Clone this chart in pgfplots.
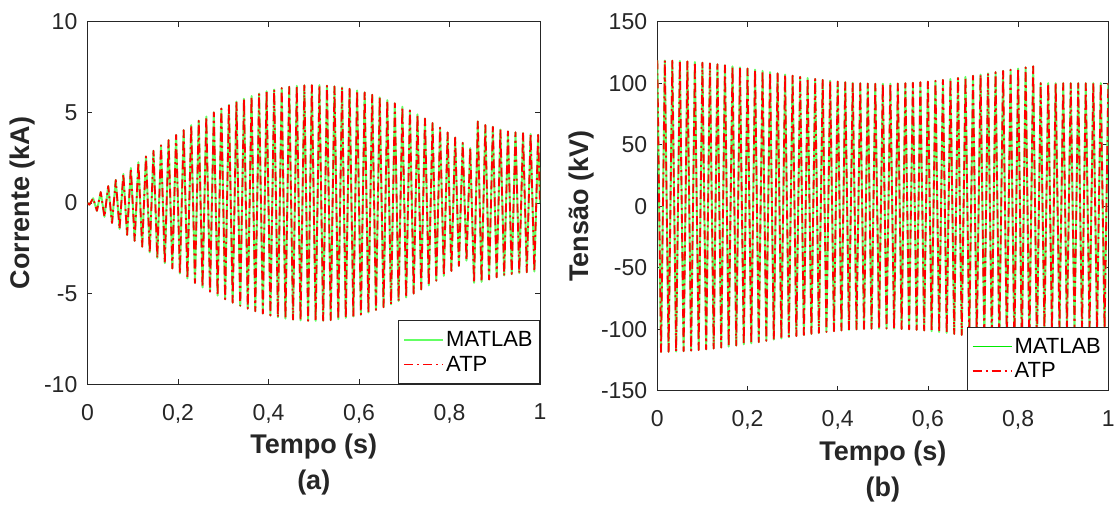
\documentclass[border=0pt]{standalone}
\usepackage{pgfplots}
\pgfplotsset{compat=1.18}
\usepackage{pgfplotstable}
\usepackage{fontspec}
\setmainfont{Liberation Sans}
\definecolor{axgray}{RGB}{38,38,38}
\definecolor{lgreen}{RGB}{100,255,100}
\definecolor{bgreen}{RGB}{0,235,0}
\definecolor{mred}{RGB}{255,0,0}

\pgfplotstableread{
t y
0 0
0.0042 -0.09
0.0125 0.26
0.0208 -0.43
0.0292 0.60
0.0375 -0.76
0.0458 0.93
0.0542 -1.10
0.0625 1.27
0.0708 -1.43
0.0792 1.60
0.0875 -1.76
0.0958 1.93
0.1042 -2.09
0.1125 2.25
0.1208 -2.41
0.1292 2.57
0.1375 -2.72
0.1458 2.88
0.1542 -3.03
0.1625 3.18
0.1708 -3.32
0.1792 3.47
0.1875 -3.61
0.1958 3.75
0.2042 -3.89
0.2125 4.02
0.2208 -4.16
0.2292 4.29
0.2375 -4.41
0.2458 4.54
0.2542 -4.66
0.2625 4.77
0.2708 -4.89
0.2792 5.00
0.2875 -5.11
0.2958 5.21
0.3042 -5.31
0.3125 5.41
0.3208 -5.50
0.3292 5.59
0.3375 -5.67
0.3458 5.75
0.3542 -5.83
0.3625 5.90
0.3708 -5.97
0.3792 6.04
0.3875 -6.10
0.3958 6.16
0.4042 -6.21
0.4125 6.26
0.4208 -6.30
0.4292 6.34
0.4375 -6.38
0.4458 6.41
0.4542 -6.43
0.4625 6.46
0.4708 -6.47
0.4792 6.49
0.4875 -6.50
0.4958 6.50
0.5042 -6.50
0.5125 6.50
0.5208 -6.49
0.5292 6.47
0.5375 -6.46
0.5458 6.43
0.5542 -6.41
0.5625 6.38
0.5708 -6.34
0.5792 6.30
0.5875 -6.26
0.5958 6.21
0.6042 -6.16
0.6125 6.10
0.6208 -6.04
0.6292 5.97
0.6375 -5.90
0.6458 5.83
0.6542 -5.75
0.6625 5.67
0.6708 -5.59
0.6792 5.50
0.6875 -5.41
0.6958 5.31
0.7042 -5.21
0.7125 5.11
0.7208 -5.00
0.7292 4.89
0.7375 -4.77
0.7458 4.66
0.7542 -4.54
0.7625 4.41
0.7708 -4.29
0.7792 4.16
0.7875 -4.02
0.7958 3.89
0.8042 -3.75
0.8125 3.61
0.8208 -3.47
0.8292 3.32
0.8375 -3.18
0.8458 3.03
0.8542 -4.40
0.8625 4.50
0.8708 -4.35
0.8792 4.30
0.8875 -4.22
0.8958 4.20
0.9042 -4.10
0.9125 4.05
0.9208 -4.00
0.9292 3.95
0.9375 -3.92
0.9458 3.90
0.9542 -3.87
0.9625 3.85
0.9708 -3.82
0.9792 3.80
0.9875 -3.78
0.9958 3.76
1.0000 0
}\dataA

\pgfplotstableread{
t y
0.0000 118.50
0.0083 -118.49
0.0167 118.45
0.0250 -118.38
0.0333 118.29
0.0417 -118.18
0.0500 118.04
0.0583 -117.87
0.0667 117.68
0.0750 -117.46
0.0833 117.23
0.0917 -116.97
0.1000 116.69
0.1083 -116.38
0.1167 116.06
0.1250 -115.72
0.1333 115.36
0.1417 -114.98
0.1500 114.58
0.1583 -114.17
0.1667 113.75
0.1750 -113.31
0.1833 112.86
0.1917 -112.40
0.2000 111.94
0.2083 -111.46
0.2167 110.98
0.2250 -110.49
0.2333 109.99
0.2417 -109.50
0.2500 109.00
0.2583 -108.50
0.2667 108.01
0.2750 -107.51
0.2833 107.02
0.2917 -106.54
0.3000 106.06
0.3083 -105.60
0.3167 105.14
0.3250 -104.69
0.3333 104.25
0.3417 -103.83
0.3500 103.42
0.3583 -103.02
0.3667 102.64
0.3750 -102.28
0.3833 101.94
0.3917 -101.62
0.4000 101.31
0.4083 -101.03
0.4167 100.77
0.4250 -100.54
0.4333 100.32
0.4417 -100.13
0.4500 99.96
0.4583 -99.82
0.4667 99.71
0.4750 -99.62
0.4833 99.55
0.4917 -99.51
0.5000 99.50
0.5083 -99.51
0.5167 99.55
0.5250 -99.62
0.5333 99.71
0.5417 -99.82
0.5500 99.96
0.5583 -100.13
0.5667 100.32
0.5750 -100.54
0.5833 100.77
0.5917 -101.03
0.6000 101.31
0.6083 -101.62
0.6167 101.94
0.6250 -102.28
0.6333 102.64
0.6417 -103.02
0.6500 103.42
0.6583 -103.83
0.6667 104.25
0.6750 -104.69
0.6833 105.14
0.6917 -105.60
0.7000 106.06
0.7083 -106.54
0.7167 107.02
0.7250 -107.51
0.7333 108.01
0.7417 -108.50
0.7500 109.00
0.7583 -109.50
0.7667 109.99
0.7750 -110.49
0.7833 110.98
0.7917 -111.46
0.8000 111.94
0.8083 -112.40
0.8167 112.86
0.8250 -113.31
0.8333 113.75
0.8417 -114.17
0.8500 100.10
0.8583 -100.05
0.8667 100.00
0.8750 -100.00
0.8833 100.00
0.8917 -100.00
0.9000 100.00
0.9083 -100.00
0.9167 100.00
0.9250 -100.00
0.9333 100.00
0.9417 -100.00
0.9500 100.00
0.9583 -100.00
0.9667 100.00
0.9750 -100.00
0.9833 100.00
0.9917 -100.00
1.0000 100.00
}\dataB

\pgfplotsset{
  common/.style={
    scale only axis,
    anchor=south west,
    xmin=0, xmax=1,
    xtick={0,0.2,0.4,0.6,0.8,1},
    tick align=inside,
    tick pos=both,
    major tick length=5pt,
    axis line style={axgray, line width=0.8pt},
    every tick/.style={axgray, line width=0.8pt},
    /pgf/number format/assume math mode=true,
    /pgf/number format/use comma,
    ticklabel style={font=\fontsize{23}{23}\selectfont, text=axgray, inner sep=0pt},
    xticklabel style={anchor=north, yshift=-19.5pt},
    yticklabel style={anchor=east, xshift=-10pt},
    label style={font=\bfseries\fontsize{27}{36}\selectfont, text=axgray},
    xlabel style={at={(axis description cs:0.5,0)}, anchor=center, align=center, inner sep=0pt},
    ylabel style={anchor=center, inner sep=0pt},
    legend style={at={(1,0)}, anchor=south east, draw=axgray, line width=0.8pt, fill=white,
      font=\fontsize{22}{22}\selectfont, inner xsep=5pt, inner ysep=9pt, row sep=4pt},
    legend cell align=left,
  },
}

\begin{document}
\begin{tikzpicture}
\path[use as bounding box] (0,0) rectangle (1118pt,505pt);

\begin{axis}[common,
  at={(87.5pt,120.7pt)}, width=452.5pt, height=362.6pt,
  ymin=-10, ymax=10, ytick={-10,-5,0,5,10},
  xlabel={Tempo (s)\\(a)},
  xlabel style={yshift=-80.7pt},
  ylabel={Corrente (kA)},
  ylabel style={at={(axis description cs:-0.1436,0.5)}},
]
\addplot[color=lgreen, line width=2pt, line join=round,
  legend image code/.code={\draw[lgreen, line width=2pt] (0pt,0pt) -- (39pt,0pt);}] table[x=t,y=y] {\dataA};
\addlegendentry{MATLAB}
\addplot[color=mred, line width=1.8pt, line join=round, dash pattern=on 9pt off 4pt on 2pt off 4pt,
  legend image code/.code={\draw[mred, line width=1.6pt, dash pattern=on 9pt off 4pt on 2pt off 4pt] (0pt,0pt) -- (39pt,0pt);}] table[x=t,y=y] {\dataA};
\addlegendentry{ATP}
\end{axis}

\begin{axis}[common,
  at={(657.3pt,114.3pt)}, width=451pt, height=369pt,
  ymin=-150, ymax=150, ytick={-150,-100,-50,0,50,100,150},
  xlabel={Tempo (s)\\(b)},
  xlabel style={yshift=-80.8pt},
  ylabel={Tensão (kV)},
  ylabel style={at={(axis description cs:-0.169,0.5)}},
]
\addplot[color=lgreen, line width=2pt, line join=round,
  legend image code/.code={\draw[bgreen, line width=0.9pt] (0pt,0pt) -- (39pt,0pt);}] table[x=t,y=y] {\dataB};
\addlegendentry{MATLAB}
\addplot[color=mred, line width=1.8pt, line join=round, dash pattern=on 9pt off 4pt on 2pt off 4pt,
  legend image code/.code={\draw[mred, line width=1.6pt, dash pattern=on 9pt off 4pt on 2pt off 4pt] (0pt,0pt) -- (39pt,0pt);}] table[x=t,y=y] {\dataB};
\addlegendentry{ATP}
\end{axis}
\end{tikzpicture}
\end{document}
